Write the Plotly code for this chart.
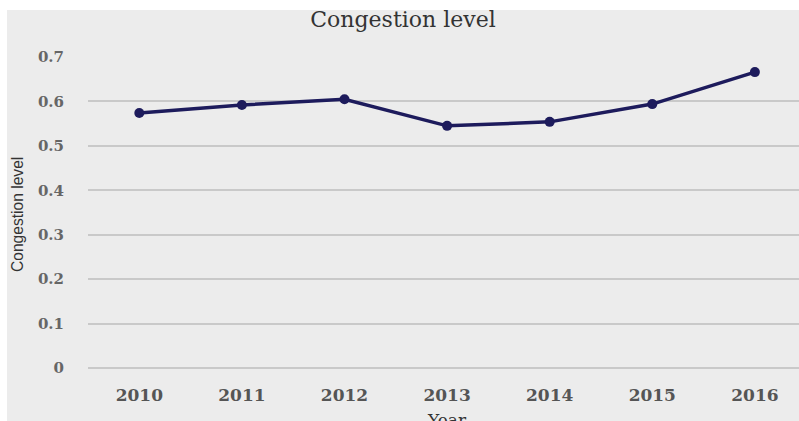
import plotly.graph_objects as go

years = [2010, 2011, 2012, 2013, 2014, 2015, 2016]
congestion = [0.574, 0.592, 0.605, 0.545, 0.554, 0.594, 0.666]
y_ticks = [0, 0.1, 0.2, 0.3, 0.4, 0.5, 0.6, 0.7]
y_tick_text = ["0", "0.1", "0.2", "0.3", "0.4", "0.5", "0.6", "0.7"]

W, H = 799, 421
ML, MR, MT, MB = 88, 0, 57, 53
plot_w = W - ML - MR
plot_h = H - MT - MB

navy = "#1d1b5c"
grid = "#c9c9c9"
serif = "DejaVu Serif"

fig = go.Figure()
fig.add_trace(go.Scatter(
    x=years, y=congestion, mode="lines+markers",
    line=dict(color=navy, width=3.5),
    marker=dict(color=navy, size=10),
    showlegend=False, cliponaxis=False,
))

# gray card behind the chart, leaving a thin white strip top and left
fig.add_shape(
    type="rect", xref="paper", yref="paper", layer="below",
    x0=(7 - ML) / plot_w, x1=1.2,
    y0=-0.5, y1=(H - MB - 10) / plot_h,
    fillcolor="#ececec", line=dict(width=0),
)

fig.update_layout(
    width=W, height=H,
    margin=dict(l=ML, r=MR, t=MT, b=MB),
    paper_bgcolor="white",
    plot_bgcolor="rgba(0,0,0,0)",
    title=dict(text="Congestion level", x=403 / W, xanchor="center",
               y=1 - 19 / H, yanchor="middle",
               font=dict(family=serif, size=22, color="#333333")),
    xaxis=dict(
        range=[2009.5, 2016.43], tickvals=years,
        ticktext=[str(y) for y in years],
        showgrid=False, zeroline=False, showline=False,
        ticks="outside", ticklen=12, tickcolor="rgba(0,0,0,0)",
        tickfont=dict(family=serif, size=17, color="#555555", weight="bold"),
    ),
    yaxis=dict(
        range=[0, 0.7], tickvals=y_ticks, ticktext=y_tick_text,
        showgrid=True, gridcolor=grid, gridwidth=2,
        zeroline=True, zerolinecolor=grid, zerolinewidth=2,
        showline=False,
        ticks="outside", ticklen=20, tickcolor="rgba(0,0,0,0)",
        tickfont=dict(family=serif, size=15, color="#666666", weight="bold"),
    ),
    annotations=[
        dict(text="Congestion level", xref="paper", yref="paper",
             x=0, y=(368 - 215) / plot_h, xanchor="center", yanchor="middle",
             xshift=17 - ML, textangle=-90, showarrow=False,
             font=dict(family="Liberation Sans", size=15.6, color="#333333")),
        dict(text="Year", xref="paper", yref="paper",
             x=(447 - ML) / plot_w, y=0, xanchor="center", yanchor="top",
             yshift=-40, showarrow=False,
             font=dict(family=serif, size=17, color="#333333")),
    ],
)

fig.write_html("out.html")
